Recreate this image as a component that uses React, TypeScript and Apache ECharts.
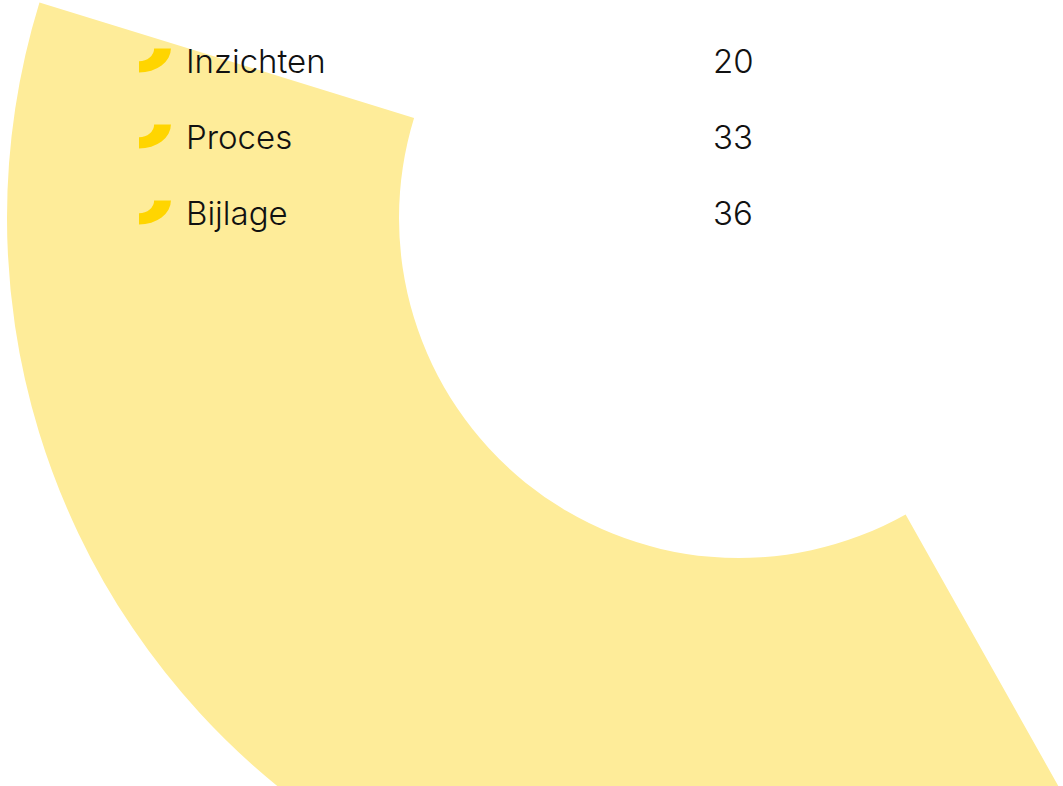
import React, { useEffect, useRef } from 'react';
import * as echarts from 'echarts';

const categories = ['Inzichten', 'Proces', 'Bijlage'];
const values = [20, 33, 36];

export default function App() {
  const ref = useRef<HTMLDivElement>(null);
  useEffect(() => {
    document.body.style.margin = '0';
    const chart = echarts.init(ref.current as HTMLDivElement, null, { renderer: 'svg' });
    const data = categories.map((name, i) => ({
      name,
      value: values[i],
      itemStyle: { color: i === 2 ? '#FEEC99' : 'rgba(255,255,255,0)' },
    }));
    chart.setOption({
      animation: false,
      legend: {
        orient: 'vertical',
        left: 134,
        top: 39,
        itemWidth: 32,
        itemHeight: 24,
        itemGap: 43,
        icon: 'path://M63,0 L133,0 A133,100 0 0 1 0,100 L0,53 A63,53 0 0 0 63,0 Z',
        itemStyle: { color: '#FFD500', borderWidth: 0 },
        selectedMode: false,
        formatter: (name: string) => `{n|${name}}{v|${values[categories.indexOf(name)]}}`,
        textStyle: {
          padding: [0, 0, 0, 10],
          rich: {
            n: { width: 527, fontSize: 33, fontFamily: 'Inter', fontWeight: 300, color: '#111', lineHeight: 24 },
            v: { fontSize: 33, fontFamily: 'Inter', fontWeight: 300, color: '#111', lineHeight: 24 },
          },
        },
      },
      series: [
        {
          type: 'pie',
          center: [739, 218],
          radius: [340, 732],
          startAngle: 158.3,
          padAngle: 9.15,
          clockwise: true,
          silent: true,
          label: { show: false },
          labelLine: { show: false },
          emphasis: { disabled: true },
          data,
        },
      ],
    });
    return () => chart.dispose();
  }, []);
  return <div ref={ref} style={{ width: 1063, height: 786 }} />;
}
